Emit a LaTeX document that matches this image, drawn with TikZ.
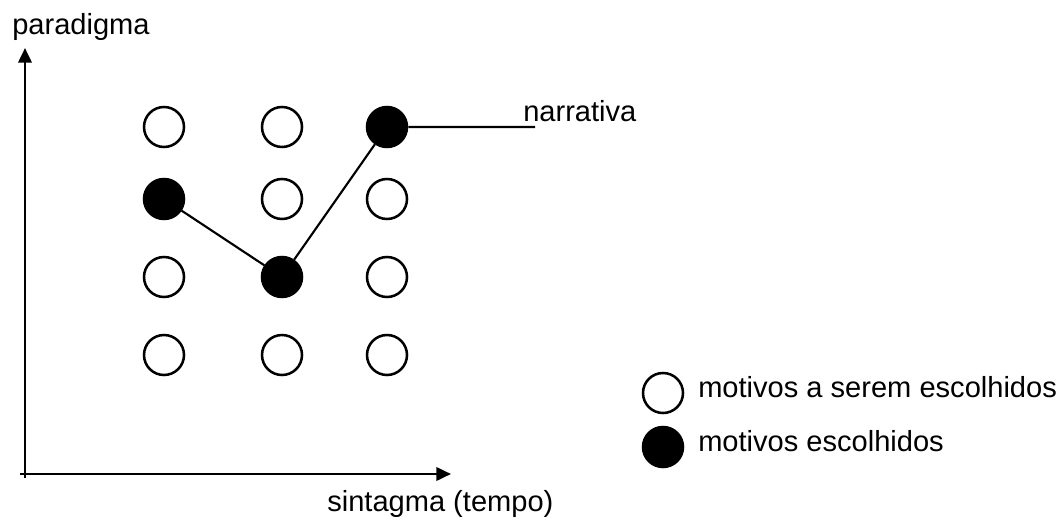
\documentclass[tikz,border=0pt]{standalone}
\usepackage{fontspec}
\setmainfont{Liberation Sans}
\usetikzlibrary{arrows.meta}

\tikzset{
  motivo/.style={circle,draw,line width=1.9pt,minimum size=30pt,inner sep=0pt},
  escolhido/.style={motivo,fill=black},
  rotulo/.style={inner sep=0pt,anchor=base west,font=\fontsize{21.8}{26}\selectfont},
  eixo/.style={line width=2pt,-{Triangle[length=11pt,width=10pt]}}
}

\begin{document}
\begin{tikzpicture}[x=0.75pt,y=-0.75pt]
\useasboundingbox (0,0) rectangle (1062,520);

% eixos
\coordinate (baixo) at (25,478);
\coordinate (topo) at (25,48);
\coordinate (esq) at (20,474);
\coordinate (dir) at (451,474);
\draw[eixo] (baixo) -- (topo);
\draw[eixo] (esq) -- (dir);
\node[rotulo] (paradigma) at (12,35) {paradigma};
\node[rotulo] (sintagma) at (327,511) {sintagma (tempo)};

% motivos
\node[motivo] (m11) at (164,127) {};
\node[motivo] (m21) at (282,127) {};
\node[escolhido] (m31) at (387,127) {};
\node[escolhido] (m12) at (164,199) {};
\node[motivo] (m22) at (282,199) {};
\node[motivo] (m32) at (387,199) {};
\node[motivo] (m13) at (164,277) {};
\node[escolhido] (m23) at (282,277) {};
\node[motivo] (m33) at (387,277) {};
\node[motivo] (m14) at (164,355) {};
\node[motivo] (m24) at (282,355) {};
\node[motivo] (m34) at (387,355) {};

% narrativa
\coordinate (fim) at (535,127);
\draw[line width=1.6pt] (m12) -- (m23) -- (m31) -- (fim);
\node[rotulo] (narrativa) at (523,122) {narrativa};

% legenda
\node[motivo] (leg1) at (663,393) {};
\node[escolhido] (leg2) at (663,447) {};
\node[rotulo] (texto1) at (698,397) {motivos a serem escolhidos};
\node[rotulo] (texto2) at (698,451) {motivos escolhidos};
\end{tikzpicture}
\end{document}
